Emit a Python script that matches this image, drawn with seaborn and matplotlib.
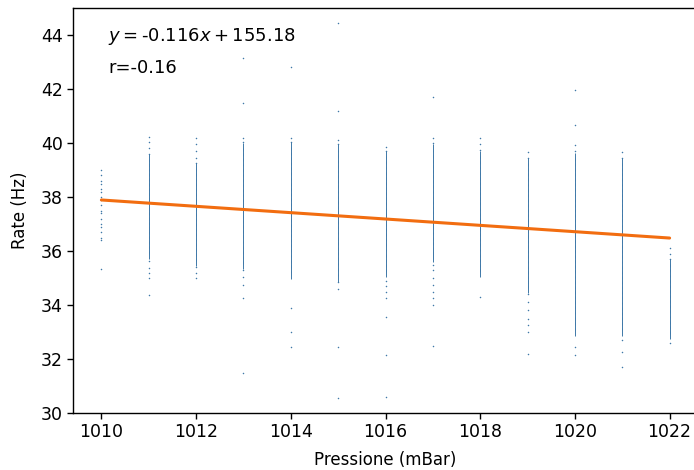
import numpy as np
import pandas as pd
import matplotlib
matplotlib.use("Agg")
import matplotlib.pyplot as plt
import seaborn as sns

# ---- data ----
pressures = [1010, 1011, 1012, 1013, 1014, 1015, 1016, 1017, 1018, 1019, 1020, 1021, 1022]

# dense (continuous-looking) part of each column
rate_core = {
    1010: [],
    1011: [39.45, 39.27, 39.1, 38.92, 38.75, 38.56, 38.38, 38.2, 38.03, 37.85, 37.66, 37.48, 37.3,
           37.12, 36.94, 36.76, 36.58, 36.4, 36.22, 36.04, 35.85],
    1012: [39.1, 38.92, 38.73, 38.55, 38.36, 38.18, 38.0, 37.81, 37.63, 37.44, 37.26, 37.07, 36.89,
           36.7, 36.52, 36.33, 36.15, 35.96, 35.78, 35.6],
    1013: [39.85, 39.66, 39.47, 39.28, 39.09, 38.9, 38.71, 38.52, 38.33, 38.14, 37.95, 37.76, 37.57,
           37.38, 37.19, 37.0, 36.81, 36.62, 36.43, 36.24, 36.05, 35.86, 35.68, 35.5],
    1014: [39.9, 39.71, 39.52, 39.33, 39.14, 38.95, 38.76, 38.57, 38.38, 38.19, 38.0, 37.81, 37.62,
           37.43, 37.24, 37.05, 36.86, 36.67, 36.48, 36.29, 36.1, 35.91, 35.72, 35.53, 35.32, 35.1],
    1015: [39.8, 39.61, 39.42, 39.23, 39.04, 38.85, 38.66, 38.47, 38.28, 38.09, 37.9, 37.71, 37.52,
           37.33, 37.14, 36.95, 36.76, 36.57, 36.38, 36.19, 36.0, 35.81, 35.62, 35.42, 35.21, 35.0],
    1016: [39.55, 39.36, 39.17, 38.98, 38.79, 38.6, 38.41, 38.22, 38.03, 37.84, 37.65, 37.46, 37.27,
           37.08, 36.89, 36.7, 36.51, 36.32, 36.13, 35.94, 35.75, 35.56, 35.38, 35.2],
    1017: [39.8, 39.61, 39.42, 39.23, 39.04, 38.85, 38.66, 38.47, 38.28, 38.09, 37.9, 37.71, 37.52,
           37.33, 37.14, 36.95, 36.76, 36.57, 36.38, 36.19, 36.0, 35.87, 35.74],
    1018: [39.55, 39.36, 39.17, 38.98, 38.79, 38.6, 38.41, 38.22, 38.03, 37.84, 37.65, 37.46, 37.27,
           37.08, 36.89, 36.7, 36.51, 36.32, 36.13, 35.94, 35.75, 35.56, 35.38, 35.2],
    1019: [39.3, 39.11, 38.92, 38.73, 38.54, 38.35, 38.16, 37.97, 37.78, 37.59, 37.4, 37.21, 37.02,
           36.83, 36.64, 36.45, 36.26, 36.07, 35.88, 35.69, 35.5, 35.31, 35.12, 34.93, 34.76, 34.6],
    1020: [39.5, 39.31, 39.12, 38.93, 38.74, 38.55, 38.36, 38.17, 37.98, 37.79, 37.6, 37.41, 37.22,
           37.03, 36.84, 36.65, 36.46, 36.27, 36.08, 35.89, 35.7, 35.51, 35.32, 35.13, 34.94, 34.75,
           34.56, 34.37, 34.18, 33.99, 33.8, 33.61, 33.42, 33.21, 33.0],
    1021: [39.3, 39.11, 38.92, 38.73, 38.54, 38.35, 38.16, 37.97, 37.78, 37.59, 37.4, 37.21, 37.02,
           36.83, 36.64, 36.45, 36.26, 36.07, 35.88, 35.69, 35.5, 35.31, 35.12, 34.93, 34.74, 34.55,
           34.36, 34.17, 33.98, 33.79, 33.6, 33.41, 33.21, 33.0],
    1022: [35.55, 35.36, 35.17, 34.98, 34.79, 34.6, 34.41, 34.22, 34.03, 33.84, 33.65, 33.46, 33.27,
           33.08, 32.9],
}

# sparse points (column tails and outliers)
rate_sparse = {
    1010: [39.0, 38.8, 38.6, 38.5, 38.3, 38.2, 38.0, 37.9, 37.7, 37.5, 37.4, 37.2, 37.0, 36.9, 36.7,
           36.5, 36.4, 35.33],
    1011: [40.22, 40.05, 39.82, 39.61, 35.62, 35.38, 35.2, 35.0, 34.37],
    1012: [40.19, 39.98, 39.7, 39.45, 39.25, 35.4, 35.2, 35.0],
    1013: [43.15, 41.48, 40.2, 40.02, 35.28, 35.05, 34.74, 34.26, 31.48],
    1014: [42.8, 40.2, 40.05, 33.9, 33.0, 32.44],
    1015: [44.44, 41.2, 40.1, 39.95, 34.85, 34.6, 32.44, 30.55],
    1016: [39.85, 39.7, 34.9, 34.7, 34.5, 34.26, 33.55, 32.15, 30.6],
    1017: [41.7, 40.2, 40.0, 35.5, 35.3, 35.0, 34.75, 34.5, 34.25, 34.0, 32.5],
    1018: [40.2, 39.95, 39.75, 34.3],
    1019: [39.67, 39.45, 34.4, 34.1, 33.8, 33.5, 33.25, 33.0, 32.2],
    1020: [41.96, 40.67, 39.93, 39.7, 32.44, 32.15],
    1021: [39.67, 39.45, 32.7, 32.26, 31.7],
    1022: [36.1, 35.9, 35.7, 32.6],
}

# regression line as drawn in the reference
fit_x = [1010, 1022]
fit_y = [37.89, 36.48]
eq_text = r"$y = $-0.116$x + 155.18$"
r_text = "r=-0.16"

x_ticks = [1010, 1012, 1014, 1016, 1018, 1020, 1022]
y_ticks = [30, 32, 34, 36, 38, 40, 42, 44]

# ---- build tables ----
core_df = pd.DataFrame([(p, v) for p in pressures for v in rate_core[p]],
                       columns=["Pressione", "Rate"])
sparse_df = pd.DataFrame([(p, v) for p in pressures for v in rate_sparse[p]],
                         columns=["Pressione", "Rate"])
fit_df = pd.DataFrame({"Pressione": fit_x, "Rate": fit_y})

sns.set_style("ticks")
plt.rcParams["font.family"] = ["DejaVu Sans"]
plt.rcParams["text.color"] = "black"
plt.rcParams["axes.labelcolor"] = "black"
plt.rcParams["xtick.color"] = "black"
plt.rcParams["ytick.color"] = "black"

fig = plt.figure(figsize=(6.94, 4.70), dpi=100)
ax = fig.add_axes([73 / 694, 1 - 413 / 470, 625 / 694, 405 / 470])

pt_color = "#3f78a8"
sns.scatterplot(data=core_df, x="Pressione", y="Rate", marker="|", s=30,
                linewidth=0.7, color=pt_color, ax=ax, legend=False)
sns.scatterplot(data=sparse_df, x="Pressione", y="Rate", marker="o", s=1.2,
                linewidth=0, color=pt_color, ax=ax, legend=False)
sns.lineplot(data=fit_df, x="Pressione", y="Rate", color="#f26d10", linewidth=2.2, ax=ax)

ax.set_xlim(1009.4, 1022.6)
ax.set_ylim(30, 45)
ax.set_xticks(x_ticks)
ax.set_yticks(y_ticks)
ax.tick_params(labelsize=12.5, length=4, width=1, color="black", labelcolor="black")
for s in ax.spines.values():
    s.set_visible(True)
    s.set_linewidth(1.0)
    s.set_color("black")

ax.set_xlabel("Pressione (mBar)", fontsize=12, labelpad=7, color="black")
ax.set_ylabel("Rate (Hz)", fontsize=12, labelpad=8, color="black")

ax.text(0.056, 0.93, eq_text, transform=ax.transAxes, fontsize=13, va="center", ha="left",
        color="black")
ax.text(0.056, 0.852, r_text, transform=ax.transAxes, fontsize=13, va="center", ha="left",
        color="black")

fig.savefig("out.png", dpi=100)
